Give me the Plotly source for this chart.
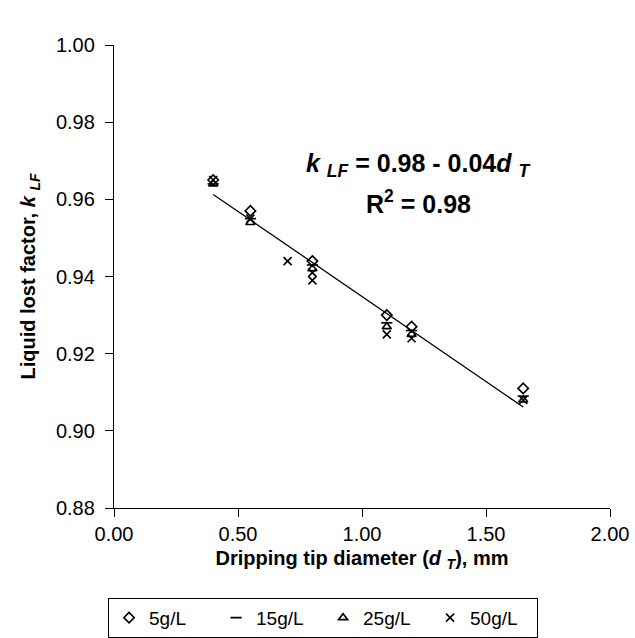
import numpy as np
import plotly.graph_objects as go

x_vals = [0.40, 0.55, 0.80, 1.10, 1.20, 1.65]
y_5 = [0.965, 0.957, 0.944, 0.930, 0.927, 0.911]
y_15 = [0.964, 0.955, 0.943, 0.928, 0.926, 0.909]
y_25 = [0.964, 0.954, 0.942, 0.927, 0.925, 0.908]
x_50 = [0.40, 0.55, 0.70, 0.80, 0.80, 1.10, 1.20, 1.65]
y_50 = [0.965, 0.955, 0.944, 0.941, 0.939, 0.925, 0.924, 0.908]
fit_x = [0.40, 1.65]

names = ["5g/L", "15g/L", "25g/L", "50g/L"]
symbols = ["diamond-open", "line-ew-open", "triangle-up-open", "x-thin-open"]

all_x = np.array(x_vals * 3 + x_50)
all_y = np.array(y_5 + y_15 + y_25 + y_50)
slope, intercept = np.polyfit(all_x, all_y, 1)

font = "Liberation Sans, Arial, sans-serif"
fig = go.Figure()
fig.add_trace(go.Scatter(x=fit_x, y=[intercept + slope * v for v in fit_x], mode="lines",
                         line=dict(color="black", width=1.3), showlegend=False, hoverinfo="skip"))
series = [(x_vals, y_5), (x_vals, y_15), (x_vals, y_25), (x_50, y_50)]
for (xs, ys), n, s in zip(series, names, symbols):
    fig.add_trace(go.Scatter(x=xs, y=ys, mode="markers", name=n,
                             marker=dict(symbol=s, size=8, color="black",
                                         line=dict(color="black", width=1.6))))

fig.add_annotation(x=0.613, y=0.78, xref="paper", yref="paper", showarrow=False,
                   text="<b><i>k</i> <sub><i>LF</i></sub> = 0.98 - 0.04<i>d</i> <sub><i>T</i></sub></b>",
                   font=dict(size=25, color="black", family=font))
fig.add_annotation(x=0.613, y=0.66, xref="paper", yref="paper", showarrow=False,
                   text="<b>R<sup>2</sup> = 0.98</b>",
                   font=dict(size=25, color="black", family=font))

fig.update_layout(
    width=635, height=638,
    margin=dict(l=114, r=25, t=45, b=130, autoexpand=False),
    paper_bgcolor="white", plot_bgcolor="white",
    font=dict(family=font, color="black", size=20),
    legend=dict(orientation="h", x=-0.012, xanchor="left", y=-0.194, yanchor="top",
                bordercolor="black", borderwidth=1, font=dict(size=19),
                itemwidth=30, entrywidth=62, tracegroupgap=0),
    showlegend=True,
)
fig.update_xaxes(range=[0, 2.0], dtick=0.5, tickformat=".2f", showgrid=False, zeroline=False,
                 showline=True, linecolor="black", linewidth=1.3, ticks="outside", ticklen=8,
                 tickcolor="black", tickfont=dict(size=20),
                 title=dict(text="<b>Dripping tip diameter (<i>d</i> <sub><i>T</i></sub>), mm</b>",
                            font=dict(size=20), standoff=6))
fig.update_yaxes(range=[0.88, 1.0], dtick=0.02, tickformat=".2f", showgrid=False, zeroline=False,
                 showline=True, linecolor="black", linewidth=1.3, ticks="outside", ticklen=8,
                 ticklabelstandoff=6,
                 tickcolor="black", tickfont=dict(size=20),
                 title=dict(text="<b>Liquid lost factor, <i>k</i> <sub><i>LF</i></sub></b>",
                            font=dict(size=20), standoff=14))
fig.write_html("out.html")
